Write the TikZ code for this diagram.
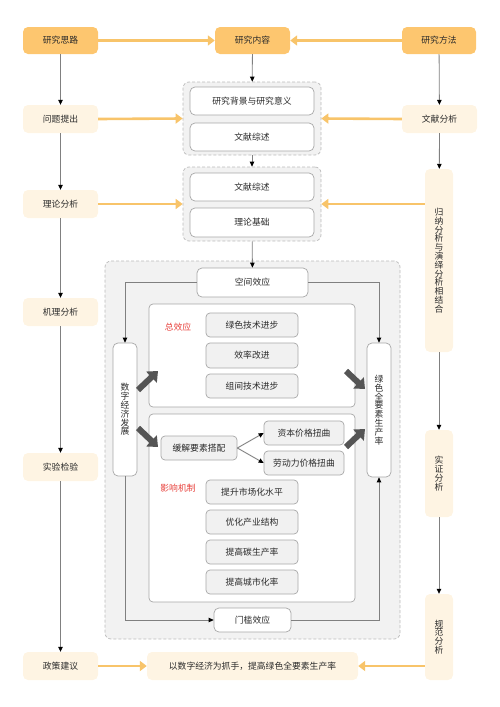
\documentclass[tikz,border=0pt]{standalone}
\usepackage{fontspec}
\setmainfont{Noto Sans CJK SC}
\usetikzlibrary{arrows.meta}
\definecolor{orhead}{HTML}{FDC66F}
\definecolor{orarr}{HTML}{F8C46A}
\definecolor{cream}{HTML}{FEF4E3}
\definecolor{grpfill}{HTML}{F2F2F2}
\definecolor{grpline}{HTML}{BBBBBB}
\definecolor{bx}{HTML}{A8A8A8}
\definecolor{bxfill}{HTML}{F1F1F1}
\definecolor{txt}{HTML}{2A2A2A}
\definecolor{redlab}{HTML}{E8413C}
\definecolor{conn}{HTML}{808080}
\definecolor{fatc}{HTML}{555555}
\tikzset{
  every node/.style={font=\fontsize{8.8}{8.8}\selectfont, text=txt, inner sep=0pt},
  head/.style={fill=orhead, rounded corners=5pt},
  side/.style={fill=cream, rounded corners=5pt},
  vside/.style={fill=cream, rounded corners=5pt, align=center},
  grp/.style={draw=grpline, fill=grpfill, rounded corners=6pt, dash pattern=on 3pt off 2pt, line width=0.7pt},
  wbox/.style={draw=bx, fill=white, rounded corners=5pt, line width=0.7pt},
  gbox/.style={draw=bx, fill=bxfill, rounded corners=4pt, line width=0.7pt},
  panel/.style={draw=bx, fill=white, rounded corners=4pt, line width=0.7pt},
  redl/.style={text=redlab},
  oarr/.style={draw=orarr, line width=2.6pt, -{Triangle[length=7pt,width=10pt]}},
  garr/.style={draw=conn, line width=0.8pt, -{Triangle[length=5pt,width=4.5pt,color=black]}},
  iarr/.style={draw=conn, line width=0.9pt, -{Triangle[length=5pt,width=4.5pt,color=black]}},
  fat/.style={draw=fatc, line width=6pt, -{Triangle[length=9pt,width=15pt]}},
}
\begin{document}
\begin{tikzpicture}[x=1pt,y=-1pt]
\useasboundingbox (0,0) rectangle (500,707);
% headers
\node[head, minimum width=75, minimum height=27] (hd1) at (60.5,40.5) {研究思路};
\node[head, minimum width=75, minimum height=27] (hd2) at (252.5,40.5) {研究内容};
\node[head, minimum width=74, minimum height=27] (hd3) at (439,40.5) {研究方法};
% left column
\node[side, minimum width=75, minimum height=28] (L1) at (60.5,119) {问题提出};
\node[side, minimum width=75, minimum height=28] (L2) at (60.5,204) {理论分析};
\node[side, minimum width=75, minimum height=28] (L3) at (60.5,312) {机理分析};
\node[side, minimum width=75, minimum height=28] (L4) at (60.5,467) {实验检验};
\node[side, minimum width=75, minimum height=28] (L5) at (60.5,666) {政策建议};
% right column
\node[side, minimum width=75, minimum height=28] (R1) at (439.5,119) {文献分析};
\node[vside, minimum width=28, minimum height=183] (R2) at (439,260.5) {归\\纳\\分\\析\\与\\演\\绎\\分\\析\\相\\结\\合};
\node[vside, minimum width=28, minimum height=87] (R3) at (439,473.5) {实\\证\\分\\析};
\node[vside, minimum width=28, minimum height=86] (R4) at (439,637) {规\\范\\分\\析};
% group 1
\node[grp, minimum width=138, minimum height=73] (G1) at (252,118.5) {};
\node[wbox, minimum width=124, minimum height=28] (G1a) at (252,101) {研究背景与研究意义};
\node[wbox, minimum width=124, minimum height=28] (G1b) at (252,137) {文献综述};
% group 2
\node[grp, minimum width=138, minimum height=74] (G2) at (252,204) {};
\node[wbox, minimum width=124, minimum height=28] (G2a) at (252,187) {文献综述};
\node[wbox, minimum width=124, minimum height=29] (G2b) at (252,222.5) {理论基础};
% group 3
\node[grp, minimum width=295, minimum height=378] (G3) at (252.5,450) {};
\node[wbox, minimum width=111, minimum height=29] (S) at (252.5,282.5) {空间效应};
\node[wbox, align=center, minimum width=24, minimum height=133] (D) at (125,409.5) {数\\字\\经\\济\\发\\展};
\node[wbox, align=center, minimum width=24, minimum height=134] (T) at (379,410) {绿\\色\\全\\要\\素\\生\\产\\率};
\node[panel, minimum width=206, minimum height=103] (P1) at (252,355.5) {};
\node[redl] (P1l) at (178,327) {总效应};
\node[gbox, minimum width=92, minimum height=24] (b1) at (252,325) {绿色技术进步};
\node[gbox, minimum width=92, minimum height=25] (b2) at (252,355.5) {效率改进};
\node[gbox, minimum width=92, minimum height=24] (b3) at (252,386) {组间技术进步};
\node[panel, minimum width=206, minimum height=188] (P2) at (252,508) {};
\node[gbox, minimum width=76, minimum height=24] (m) at (199,448) {缓解要素搭配};
\node[gbox, minimum width=80, minimum height=24] (c1) at (304,433) {资本价格扭曲};
\node[gbox, minimum width=80, minimum height=24] (c2) at (304,463) {劳动力价格扭曲};
\node[redl] (P2l) at (178,488) {影响机制};
\node[gbox, minimum width=92, minimum height=24] (e1) at (252,492) {提升市场化水平};
\node[gbox, minimum width=92, minimum height=24] (e2) at (252,522) {优化产业结构};
\node[gbox, minimum width=92, minimum height=24] (e3) at (252,552) {提高碳生产率};
\node[gbox, minimum width=92, minimum height=24] (e4) at (252,582) {提高城市化率};
\node[wbox, minimum width=77, minimum height=24] (M) at (252.5,620) {门槛效应};
% bottom
\node[side, minimum width=211, minimum height=28] (B) at (252.5,666) {以数字经济为抓手，提高绿色全要素生产率};
% orange arrows
\draw[oarr] (hd1.east) -- (hd2.west);
\draw[oarr] (hd3.west) -- (hd2.east);
\draw[oarr] (L1.east) -- (G1.west);
\draw[oarr] (R1.west) -- (G1.east);
\draw[oarr] (L2.east) -- (G2.west);
\draw[oarr] (R2.west |- G2.east) -- (G2.east);
\draw[oarr] (L5.east) -- (B.west);
\draw[oarr] (R4.west |- B.east) -- (B.east);
% gray arrows
\draw[garr] (hd1) -- (L1);
\draw[garr] (L1) -- (L2);
\draw[garr] (L2) -- (L3);
\draw[garr] (L3) -- (L4);
\draw[garr] (L4) -- (L5);
\draw[garr] (hd3) -- (R1);
\draw[garr] (R1) -- (R2);
\draw[garr] (R2) -- (R3);
\draw[garr] (R3) -- (R4);
\draw[garr] (hd2) -- (G1);
\draw[garr] (G1) -- (G2);
\draw[garr] (G2) -- (S);
% inner connectors
\draw[iarr] (S.west) -| (D.north);
\draw[iarr] (S.east) -| (T.north);
\draw[iarr] (D.south) |- (M.west);
\draw[iarr] (M.east) -| (T.south);
\draw[iarr] (m.east) -- (c1.west);
\draw[iarr] (m.east) -- (c2.west);
% fat arrows
\coordinate (f1s) at (138,390); \coordinate (f1e) at (158,371);
\coordinate (f2s) at (138,428); \coordinate (f2e) at (158,447);
\coordinate (f3s) at (346,371); \coordinate (f3e) at (365,389);
\coordinate (f4s) at (346,447); \coordinate (f4e) at (365,429);
\draw[fat] (f1s) -- (f1e);
\draw[fat] (f2s) -- (f2e);
\draw[fat] (f3s) -- (f3e);
\draw[fat] (f4s) -- (f4e);
\end{tikzpicture}
\end{document}
